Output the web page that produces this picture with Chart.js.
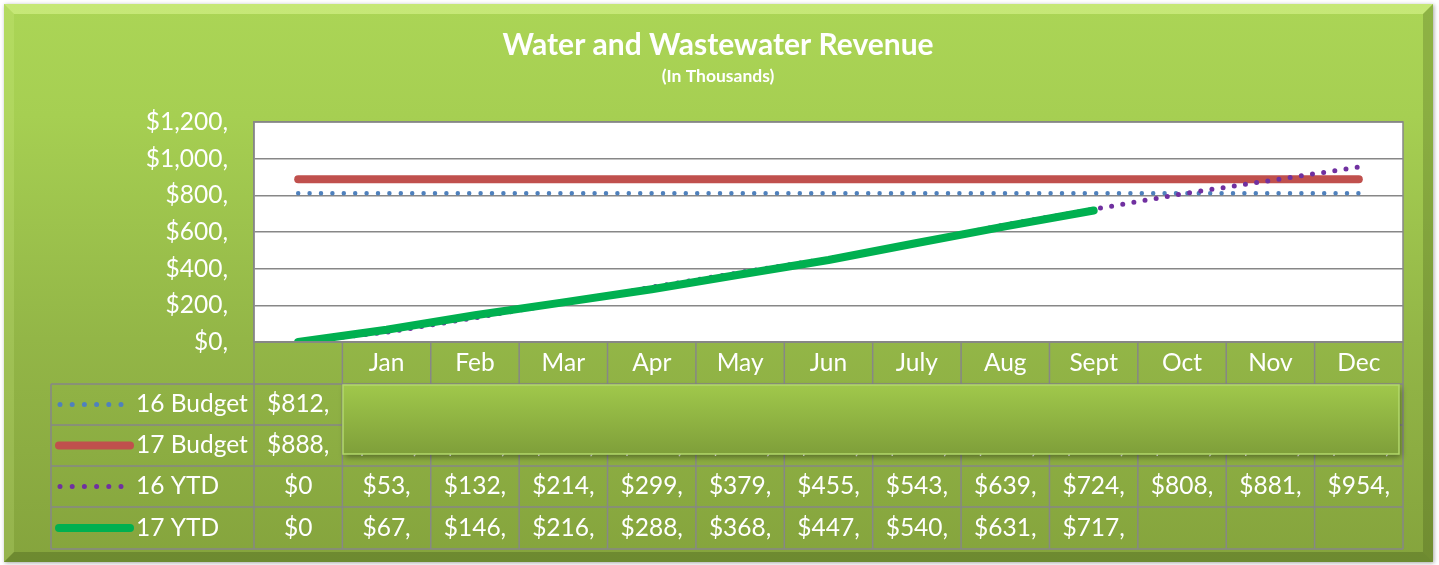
<!DOCTYPE html>
<html>
<head>
<meta charset="utf-8">
<script src="https://cdn.jsdelivr.net/npm/chart.js@4.4.0/dist/chart.umd.min.js"></script>
<style>
  html, body { margin: 0; padding: 0; background: #fff; }
  #wrap { width: 1439px; height: 565px; }
</style>
</head>
<body>
<div id="wrap"><canvas id="revenueChart"></canvas></div>
<script>
// values in thousands
const categories = ['', 'Jan', 'Feb', 'Mar', 'Apr', 'May', 'Jun', 'July', 'Aug', 'Sept', 'Oct', 'Nov', 'Dec'];
const budget16 = [812, 812, 812, 812, 812, 812, 812, 812, 812, 812, 812, 812, 812];
const budget17 = [888, 888, 888, 888, 888, 888, 888, 888, 888, 888, 888, 888, 888];
const ytd16 = [0, 53, 132, 214, 299, 379, 455, 543, 639, 724, 808, 881, 954];
const ytd17 = [0, 67, 146, 216, 288, 368, 447, 540, 631, 717, null, null, null];
const yTicks = [0, 200, 400, 600, 800, 1000, 1200];

const FONT = 'Lato, "Open Sans", sans-serif';
const GRID = '#878787';
const TXT = 24.5;

function money(v) {
    if (v === null) return '';
    if (v === 0) return '$0';
    return '$' + v.toLocaleString('en-US') + ',';
}

// frame, title, plot background, data table and the cover box
const excelLook = {
    id: 'excelLook',
    beforeDraw(chart) {
        const ctx = chart.ctx;
        const W = chart.width, H = chart.height;
        const a = chart.chartArea;
        ctx.save();
        ctx.fillStyle = '#fff';
        ctx.fillRect(0, 0, W, H);
        // outer frame
        const fx = 4, fy = 4, fw = 1429, fh = 558;
        ctx.shadowColor = 'rgba(0,0,0,0.35)';
        ctx.shadowBlur = 4;
        ctx.shadowOffsetX = 1;
        ctx.shadowOffsetY = 1;
        let g = ctx.createLinearGradient(0, fy, 0, fy + fh);
        g.addColorStop(0, '#abd556');
        g.addColorStop(0.2, '#a6cf52');
        g.addColorStop(0.6, '#93b647');
        g.addColorStop(1, '#85a43d');
        ctx.fillStyle = g;
        ctx.fillRect(fx, fy, fw, fh);
        ctx.shadowColor = 'transparent';
        const b = 10;
        // bevels
        ctx.fillStyle = 'rgba(230,255,160,0.45)';
        ctx.beginPath();
        ctx.moveTo(fx, fy); ctx.lineTo(fx + fw, fy); ctx.lineTo(fx + fw - b, fy + b); ctx.lineTo(fx + b, fy + b);
        ctx.closePath(); ctx.fill();
        ctx.fillStyle = 'rgba(220,250,150,0.18)';
        ctx.beginPath();
        ctx.moveTo(fx, fy); ctx.lineTo(fx + b, fy + b); ctx.lineTo(fx + b, fy + fh - b); ctx.lineTo(fx, fy + fh);
        ctx.closePath(); ctx.fill();
        ctx.fillStyle = 'rgba(40,60,10,0.22)';
        ctx.beginPath();
        ctx.moveTo(fx + fw, fy); ctx.lineTo(fx + fw, fy + fh); ctx.lineTo(fx + fw - b, fy + fh - b); ctx.lineTo(fx + fw - b, fy + b);
        ctx.closePath(); ctx.fill();
        ctx.fillStyle = 'rgba(40,60,10,0.25)';
        ctx.beginPath();
        ctx.moveTo(fx, fy + fh); ctx.lineTo(fx + fw, fy + fh); ctx.lineTo(fx + fw - b, fy + fh - b); ctx.lineTo(fx + b, fy + fh - b);
        ctx.closePath(); ctx.fill();

        // titles
        ctx.fillStyle = '#fff';
        ctx.textAlign = 'center';
        ctx.textBaseline = 'middle';
        ctx.font = 'bold 30px ' + FONT;
        ctx.fillText('Water and Wastewater Revenue', 718, 45);
        ctx.font = 'bold 17.5px ' + FONT;
        ctx.fillText('(In Thousands)', 718, 76);

        // white plot area
        ctx.fillStyle = '#fff';
        ctx.fillRect(a.left, a.top, a.right - a.left, a.bottom - a.top);
        ctx.restore();
    },
    afterDraw(chart) {
        const ctx = chart.ctx;
        const a = chart.chartArea;
        const x = chart.scales.x;
        const step = (a.right - a.left) / categories.length;
        const rows = [a.bottom, 384, 425, 466, 507, 549];
        const legendLeft = 51;
        ctx.save();
        ctx.strokeStyle = GRID;
        ctx.lineWidth = 1.5;
        // plot border
        ctx.strokeRect(a.left, a.top, a.right - a.left, a.bottom - a.top);
        // horizontal table lines
        ctx.beginPath();
        ctx.moveTo(a.left, rows[0]); ctx.lineTo(a.right, rows[0]);
        for (let r = 1; r < rows.length; r++) {
            ctx.moveTo(legendLeft, rows[r]); ctx.lineTo(a.right, rows[r]);
        }
        // vertical lines
        for (let i = 0; i <= categories.length; i++) {
            const cx = a.left + i * step;
            ctx.moveTo(cx, rows[0]); ctx.lineTo(cx, rows[rows.length - 1]);
        }
        ctx.moveTo(legendLeft, rows[1]); ctx.lineTo(legendLeft, rows[rows.length - 1]);
        ctx.stroke();

        ctx.fillStyle = '#fff';
        ctx.textBaseline = 'middle';
        ctx.textAlign = 'center';
        ctx.font = TXT + 'px ' + FONT;
        categories.forEach((c, i) => {
            ctx.fillText(c, x.getPixelForValue(i), (rows[0] + rows[1]) / 2);
        });

        chart.data.datasets.forEach((ds, r) => {
            const cy = (rows[r + 1] + rows[r + 2]) / 2;
            // legend sample
            ctx.save();
            ctx.strokeStyle = ds.borderColor;
            ctx.lineCap = 'round';
            ctx.beginPath();
            if (ds.borderDash) {
                ctx.lineWidth = 5;
                ctx.setLineDash([0, 12.2]);
                ctx.moveTo(legendLeft + 9, cy);
                ctx.lineTo(legendLeft + 71, cy);
            } else {
                ctx.lineWidth = ds.borderWidth;
                ctx.moveTo(legendLeft + 8, cy);
                ctx.lineTo(legendLeft + 79, cy);
            }
            ctx.stroke();
            ctx.restore();
            ctx.textAlign = 'left';
            ctx.fillText(ds.label, legendLeft + 85, cy);
            ctx.textAlign = 'center';
            ds.data.forEach((v, i) => {
                ctx.fillText(money(v), x.getPixelForValue(i), cy);
            });
        });

        // green box laid over the two budget rows
        const bx = 343, by = 385, bw = 1056, bh = 69;
        ctx.shadowColor = 'rgba(0,0,0,0.4)';
        ctx.shadowBlur = 6;
        ctx.shadowOffsetX = 2;
        ctx.shadowOffsetY = 3;
        const g = ctx.createLinearGradient(0, by, 0, by + bh);
        g.addColorStop(0, '#a0c84b');
        g.addColorStop(1, '#7f9f3a');
        ctx.fillStyle = g;
        ctx.fillRect(bx, by, bw, bh);
        ctx.shadowColor = 'transparent';
        ctx.strokeStyle = '#b3d96b';
        ctx.lineWidth = 1.5;
        ctx.strokeRect(bx, by, bw, bh);
        ctx.restore();
    }
};

const ctx = document.getElementById('revenueChart');
new Chart(ctx, {
    type: 'line',
    data: {
        labels: categories,
        datasets: [{
            label: '16 Budget',
            data: budget16,
            borderColor: '#4f81bd',
            borderWidth: 4.5,
            borderDash: [0, 11.4],
            borderCapStyle: 'round',
            pointRadius: 0,
            order: 4
        }, {
            label: '17 Budget',
            data: budget17,
            borderColor: '#c0504d',
            borderWidth: 8,
            borderCapStyle: 'round',
            pointRadius: 0,
            order: 3
        }, {
            label: '16 YTD',
            data: ytd16,
            borderColor: '#7030a0',
            borderWidth: 5,
            borderDash: [0, 11.3],
            borderCapStyle: 'round',
            pointRadius: 0,
            order: 2
        }, {
            label: '17 YTD',
            data: ytd17,
            borderColor: '#00b050',
            borderWidth: 8,
            borderCapStyle: 'round',
            borderJoinStyle: 'round',
            pointRadius: 0,
            spanGaps: false,
            order: 1
        }]
    },
    options: {
        responsive: true,
        maintainAspectRatio: false,
        animation: false,
        layout: { padding: { left: 0, right: 36, top: 122, bottom: 223 } },
        plugins: {
            legend: { display: false },
            tooltip: { enabled: false }
        },
        scales: {
            x: { display: false, offset: true },
            y: {
                min: 0,
                max: 1200,
                afterFit: s => { s.width = 254; },
                afterBuildTicks: s => { s.ticks = yTicks.map(v => ({ value: v })); },
                grid: { color: GRID, lineWidth: 1.5, drawTicks: false },
                border: { color: GRID, width: 1.5 },
                ticks: {
                    padding: 26,
                    color: '#fff',
                    font: { family: FONT, size: TXT },
                    callback: v => '$' + v.toLocaleString('en-US') + ','
                }
            }
        }
    },
    plugins: [excelLook]
});
</script>
</body>
</html>
